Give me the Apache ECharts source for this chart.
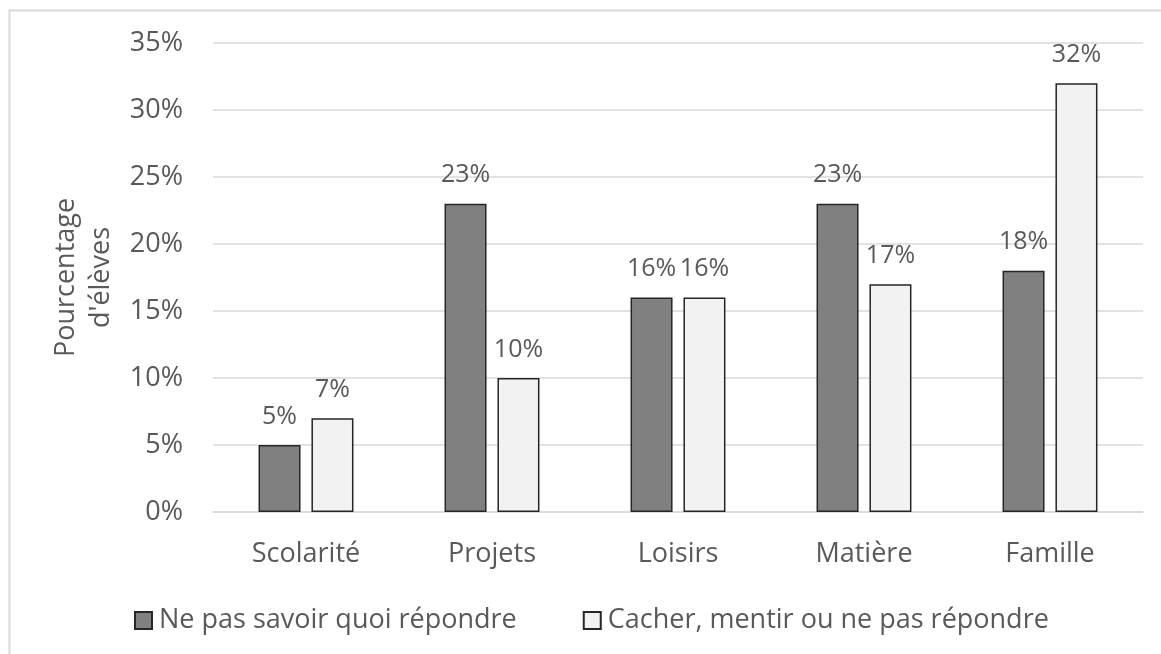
<!DOCTYPE html>
<html>
<head>
<meta charset="utf-8">
<script src="https://cdn.jsdelivr.net/npm/echarts@6/dist/echarts.min.js"></script>
<style>
  html, body { margin: 0; padding: 0; background: #fff; }
  #main { width: 1161px; height: 654px; }
</style>
</head>
<body>
<div id="main"></div>
<script>
    var categories = ['Scolarité', 'Projets', 'Loisirs', 'Matière', 'Famille'];
    var seriesNames = ['Ne pas savoir quoi répondre', 'Cacher, mentir ou ne pas répondre'];
    var nePasSavoir = [5, 23, 16, 23, 18];
    var cacherMentir = [7, 10, 16, 17, 32];

    var font = 'Open Sans';
    var textColor = '#595959';
    var fs = 27;

    var myChart = echarts.init(document.getElementById('main'));

    // étiquettes au-dessus des barres
    var labelStyle = {
        show: true,
        position: 'top',
        distance: 16,
        color: textColor,
        fontFamily: font,
        fontSize: 25,
        formatter: '{c}%'
    };

    var option = {
        backgroundColor: '#fff',
        animation: false,
        graphic: [{
            type: 'rect',
            shape: { x: 9.5, y: 10.5, width: 1200, height: 700 },
            style: { fill: 'none', stroke: '#d9d9d9', lineWidth: 2 },
            silent: true
        }],
        grid: {
            left: 213,
            right: 18,
            top: 43,
            bottom: 142
        },
        legend: {
            left: 129,
            top: 602,
            itemWidth: 17,
            itemHeight: 17,
            itemGap: 66,
            icon: 'rect',
            textStyle: { color: textColor, fontFamily: font, fontSize: fs, padding: [0, 0, 0, 2] },
            data: seriesNames
        },
        xAxis: {
            type: 'category',
            data: categories,
            axisLine: { show: true, lineStyle: { color: '#d9d9d9', width: 1.5 } },
            axisTick: { show: false },
            axisLabel: { color: textColor, fontFamily: font, fontSize: fs, margin: 29 }
        },
        yAxis: {
            type: 'value',
            min: 0,
            max: 35,
            interval: 5,
            name: 'Pourcentage\nd\'élèves',
            nameLocation: 'middle',
            nameGap: 94,
            nameTextStyle: { color: textColor, fontFamily: font, fontSize: fs, lineHeight: 35 },
            axisLine: { show: false },
            axisTick: { show: false },
            axisLabel: { color: textColor, fontFamily: font, fontSize: fs, margin: 30, formatter: '{value}%' },
            splitLine: { lineStyle: { color: '#d9d9d9', width: 1.5 } }
        },
        series: [{
            name: seriesNames[0],
            type: 'bar',
            barWidth: 42,
            barGap: '26%',
            data: nePasSavoir,
            itemStyle: { color: '#808080', borderColor: '#262626', borderWidth: 1.5 },
            label: labelStyle
        }, {
            name: seriesNames[1],
            type: 'bar',
            barWidth: 42,
            barGap: '26%',
            data: cacherMentir,
            itemStyle: { color: '#f2f2f2', borderColor: '#262626', borderWidth: 1.5 },
            label: labelStyle
        }]
    };

    myChart.setOption(option);
</script>
</body>
</html>
